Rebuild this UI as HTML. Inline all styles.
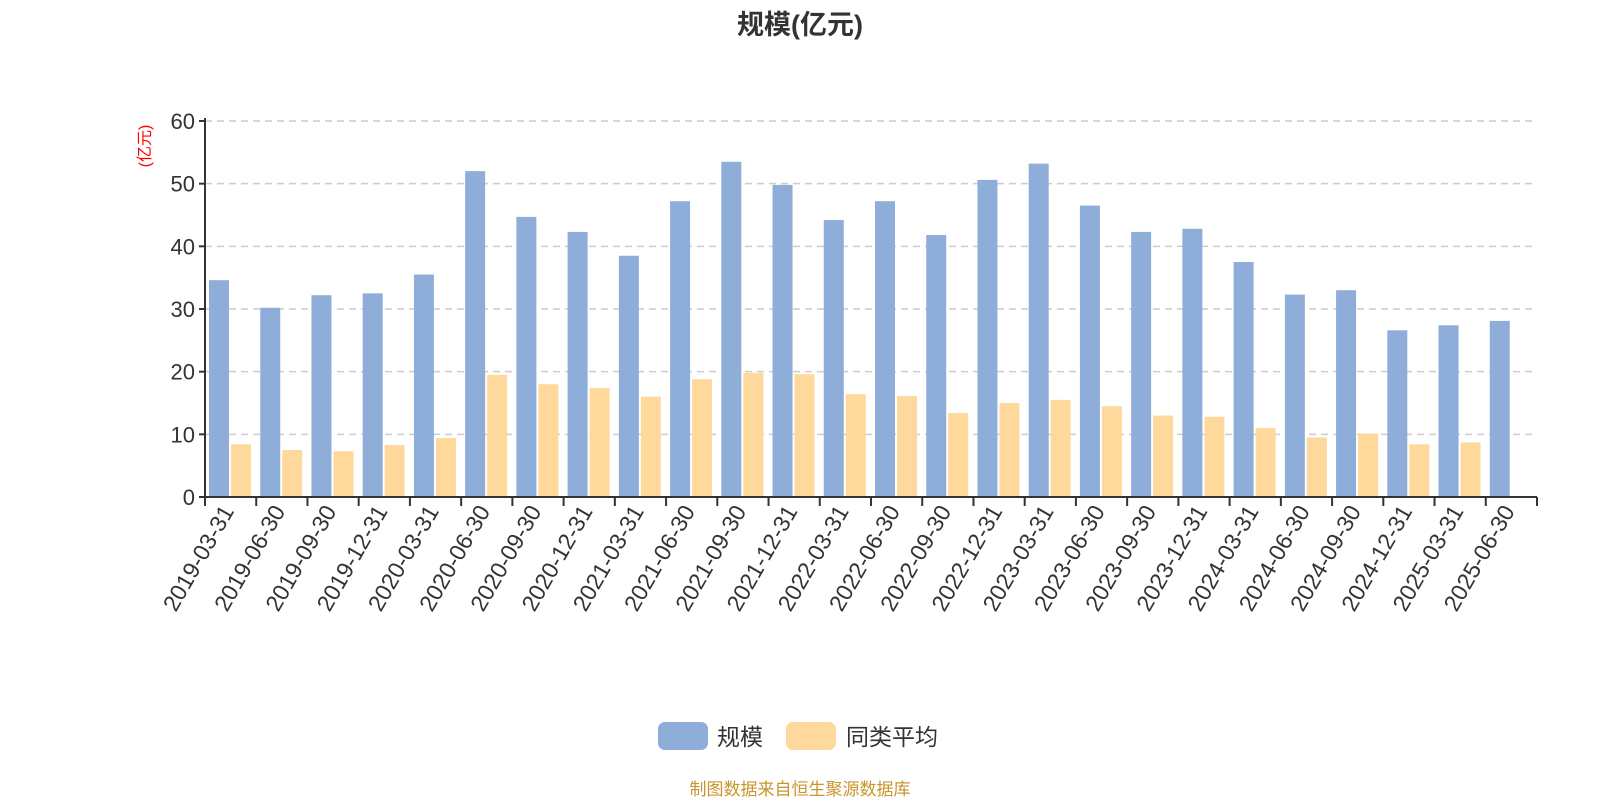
<!DOCTYPE html>
<html><head><meta charset="utf-8"><style>
body{margin:0;background:#fff;}
svg text{font-family:"Liberation Sans","Noto Sans CJK SC",sans-serif;}
</style></head><body>
<svg id="chart" width="1600" height="800" xmlns="http://www.w3.org/2000/svg">
<text x="800" y="34" text-anchor="middle" font-size="27" font-weight="bold" fill="#333">规模(亿元)</text>
<text transform="translate(150,146) rotate(-90)" text-anchor="middle" font-size="16" fill="#ff0000">(亿元)</text>
<g id="grid"></g>
<g id="bars"></g>
<g id="axes"></g>
<g>
<rect x="658" y="722" width="50" height="28" rx="7" fill="#8eadd9"/>
<text x="717" y="745" font-size="23" fill="#333">规模</text>
<rect x="786" y="722" width="50" height="28" rx="7" fill="#ffd99b"/>
<text x="846" y="745" font-size="23" fill="#333">同类平均</text>
</g>
<text x="800" y="795" text-anchor="middle" font-size="17" fill="#c8952a">制图数据来自恒生聚源数据库</text>
</svg>
<script>
const categories=["2019-03-31","2019-06-30","2019-09-30","2019-12-31","2020-03-31","2020-06-30","2020-09-30","2020-12-31","2021-03-31","2021-06-30","2021-09-30","2021-12-31","2022-03-31","2022-06-30","2022-09-30","2022-12-31","2023-03-31","2023-06-30","2023-09-30","2023-12-31","2024-03-31","2024-06-30","2024-09-30","2024-12-31","2025-03-31","2025-06-30"];
const sizeValues=[34.6,30.2,32.2,32.5,35.5,52.0,44.7,42.3,38.5,47.2,53.5,49.8,44.2,47.2,41.8,50.6,53.2,46.5,42.3,42.8,37.5,32.3,33.0,26.6,27.4,28.1];
const avgValues=[8.4,7.5,7.3,8.3,9.4,19.5,18.0,17.4,16.0,18.8,19.8,19.6,16.4,16.1,13.4,15.0,15.5,14.5,13.0,12.8,11.0,9.5,10.1,8.4,8.7,null];
const yTicks=[0,10,20,30,40,50,60];
const NS="http://www.w3.org/2000/svg";
const X0=205,X1=1537,Y0=497,Y1=121,YMAX=60;
const band=(X1-X0)/categories.length;
const y=v=>Y0-(v/YMAX)*(Y0-Y1);
const xs=i=>X0+i*band;
function mk(tag,attrs,parent,txt){const e=document.createElementNS(NS,tag);for(const k in attrs)e.setAttribute(k,attrs[k]);if(txt!==undefined)e.textContent=txt;parent.appendChild(e);return e;}
const grid=document.getElementById('grid'),bars=document.getElementById('bars'),axes=document.getElementById('axes');
yTicks.forEach(t=>{
  if(t>0){const l=mk('line',{x1:X0,x2:X1,y1:y(t),y2:y(t),stroke:'#ccc','stroke-width':1.5,'stroke-dasharray':'7,5'},grid);
  
  }
  const tk=mk('line',{x1:X0-6,x2:X0,y1:y(t),y2:y(t),stroke:'#333','stroke-width':2},axes);
  
  
  const tl=mk('text',{x:X0-10,y:y(t)+8,'text-anchor':'end','font-size':22,fill:'#333'},axes,String(t));
  
  
});
const bw=20;
categories.forEach((c,i)=>{
  const bx=xs(i)+4;
  if(sizeValues[i]!=null){const r=mk('rect',{x:bx,y:y(sizeValues[i]),width:bw,height:Y0-y(sizeValues[i]),fill:'#8eadd9'},bars);
  
  }
  if(avgValues[i]!=null){const r2=mk('rect',{x:bx+bw+2,y:y(avgValues[i]),width:bw,height:Y0-y(avgValues[i]),fill:'#ffd99b'},bars);
  
  }
  const cx=xs(i)+band/2;
  const lbl=mk('text',{transform:`translate(${cx+4},${Y0+14}) rotate(-60)`,'text-anchor':'end','font-size':23,fill:'#333'},axes,c);
  
  
});
for(let i=0;i<=categories.length;i++){
  const t=mk('line',{x1:xs(i),x2:xs(i),y1:Y0,y2:Y0+9,stroke:'#333','stroke-width':2},axes);
  
  
}
const xa=mk('line',{x1:X0,x2:X1,y1:Y0,y2:Y0,stroke:'#333','stroke-width':2},axes);


const ya=mk('line',{x1:X0,x2:X0,y1:Y1-3,y2:Y0,stroke:'#333','stroke-width':2},axes);


</script>
</body></html>
